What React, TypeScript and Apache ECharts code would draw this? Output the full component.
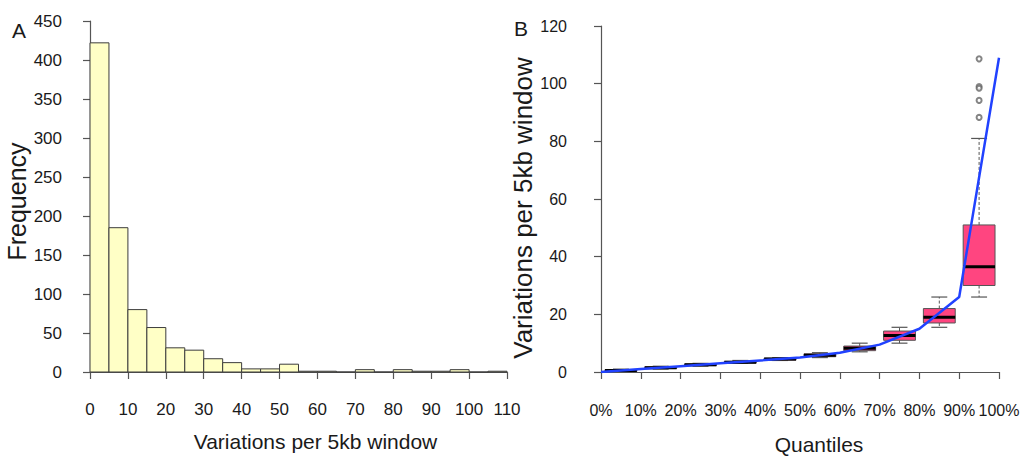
import React, { useEffect, useRef } from "react";
import * as echarts from "echarts";

// ---- Panel A: histogram ----
const binStarts = [0, 5, 10, 15, 20, 25, 30, 35, 40, 45, 50, 55, 60, 65, 70, 75, 80, 85, 90, 95, 100, 105];
const binEnds = [5, 10, 15, 20, 25, 30, 35, 40, 45, 50, 55, 60, 65, 70, 75, 80, 85, 90, 95, 100, 105, 110];
const binCounts = [422, 185, 80, 57, 31, 28, 17, 12, 4, 4, 10, 1, 1, 0, 3, 0, 3, 1, 1, 3, 0, 1];

// ---- Panel B: boxplots by quantile bin ----
const boxCenters = [5, 15, 25, 35, 45, 55, 65, 75, 85, 95];
const boxLow = [0, 1, 2, 3, 4, 5, 7, 10, 15.5, 26];
const boxQ1 = [0.2, 1.2, 2.2, 3.1, 4.1, 5.3, 7.4, 11, 17, 30];
const boxMedian = [0.5, 1.5, 2.5, 3.4, 4.5, 5.8, 8.2, 12.7, 19, 36.5];
const boxQ3 = [0.8, 1.8, 2.8, 3.7, 4.8, 6.3, 9, 14.2, 22, 51];
const boxHigh = [1, 2, 3, 4, 5, 6.7, 10, 15.5, 26, 81];

const outlierX = [95, 95, 95, 95, 95];
const outlierY = [108.6, 99, 98.4, 94.2, 88.3];

const quantilePct = [0, 10, 20, 30, 40, 50, 60, 70, 80, 90, 100];
const quantileVals = [0, 1, 2, 3, 4, 5, 6.7, 9.5, 15, 26, 109];
const quantileLabels = ["0%", "10%", "20%", "30%", "40%", "50%", "60%", "70%", "80%", "90%", "100%"];

const FONT = "'Liberation Sans', Arial, sans-serif";
const AX = "#555";
const TXT = "#1a1a1a";

export default function App() {
  const ref = useRef<HTMLDivElement>(null);
  useEffect(() => {
    if (!ref.current) return;
    const chart = echarts.init(ref.current, undefined, { renderer: "svg" });

    const histData = binStarts.map((s, i) => [s, binEnds[i], binCounts[i]]);
    const boxData = boxCenters.map((c, i) => [c, boxLow[i], boxQ1[i], boxMedian[i], boxQ3[i], boxHigh[i]]);
    const outlierData = outlierX.map((x, i) => [x, outlierY[i]]);
    const lineData = quantilePct.map((p, i) => [p, quantileVals[i]]);

    const axisCommon = {
      axisLine: { show: true, lineStyle: { color: AX, width: 1.2 } },
      axisTick: { show: true, length: 7, lineStyle: { color: AX, width: 1.2 } },
      splitLine: { show: false },
    };

    chart.setOption({
      animation: false,
      backgroundColor: "#ffffff",
      grid: [
        { left: 90, top: 21, width: 417, height: 351 },
        { left: 601, top: 26, width: 398, height: 346 },
      ],
      xAxis: [
        {
          gridIndex: 0, type: "value", min: 0, max: 110, interval: 10, offset: 15,
          ...axisCommon,
          axisLabel: { margin: 14, fontSize: 17, color: TXT, fontFamily: FONT, showMaxLabel: true, showMinLabel: true },
          name: "Variations per 5kb window", nameLocation: "middle", nameGap: 44,
          nameTextStyle: { fontSize: 21, color: TXT, fontFamily: FONT, padding: [0, 0, 0, 34] },
        },
        {
          gridIndex: 1, type: "value", min: 0, max: 100, interval: 10, offset: 16,
          ...axisCommon,
          axisLabel: {
            margin: 14, fontSize: 16, color: TXT, fontFamily: FONT,
            formatter: (v: number) => quantileLabels[Math.round(v / 10)] ?? "",
          },
          name: "Quantiles", nameLocation: "middle", nameGap: 46,
          nameTextStyle: { fontSize: 21, color: TXT, fontFamily: FONT, padding: [0, 0, 0, 38] },
        },
      ],
      yAxis: [
        {
          gridIndex: 0, type: "value", min: 0, max: 450, interval: 50, offset: 19,
          ...axisCommon,
          axisLabel: { margin: 9, fontSize: 17, color: TXT, fontFamily: FONT },
          name: "Frequency", nameLocation: "middle", nameGap: 33,
          nameTextStyle: { fontSize: 25, color: TXT, fontFamily: FONT, padding: [0, 10, 0, 0] },
        },
        {
          gridIndex: 1, type: "value", min: 0, max: 120, interval: 20, offset: 25,
          ...axisCommon,
          axisLabel: { margin: 9, fontSize: 16, color: TXT, fontFamily: FONT },
          name: "Variations per 5kb window", nameLocation: "middle", nameGap: 24,
          nameTextStyle: { fontSize: 26, color: TXT, fontFamily: FONT, padding: [0, 18, 0, 0] },
        },
      ],
      graphic: [
        { type: "text", left: 12, top: 20, style: { text: "A", fontSize: 21, fill: TXT, fontFamily: FONT } },
        { type: "text", left: 514, top: 18, style: { text: "B", fontSize: 21, fill: TXT, fontFamily: FONT } },
      ],
      series: [
        {
          type: "custom",
          xAxisIndex: 0,
          yAxisIndex: 0,
          data: histData,
          encode: { x: [0, 1], y: 2 },
          renderItem: (params: any, api: any) => {
            const p0 = api.coord([api.value(0), api.value(2)]);
            const p1 = api.coord([api.value(1), 0]);
            return {
              type: "rect",
              shape: { x: p0[0], y: p0[1], width: p1[0] - p0[0], height: p1[1] - p0[1] },
              style: { fill: "#FFFFC6", stroke: "#3c3c3c", lineWidth: 1 },
            };
          },
        },
        {
          type: "custom",
          xAxisIndex: 1,
          yAxisIndex: 1,
          data: boxData,
          encode: { x: 0, y: [1, 2, 3, 4, 5] },
          z: 2,
          renderItem: (params: any, api: any) => {
            const x = api.value(0);
            const low = api.coord([x, api.value(1)]);
            const q1 = api.coord([x, api.value(2)]);
            const med = api.coord([x, api.value(3)]);
            const q3 = api.coord([x, api.value(4)]);
            const high = api.coord([x, api.value(5)]);
            const w = api.size([10, 0])[0] * 0.8;
            const cx = low[0];
            const dash = { stroke: "#555", lineWidth: 1, lineDash: [3, 2] };
            const solid = { stroke: "#555", lineWidth: 1.2 };
            return {
              type: "group",
              children: [
                { type: "line", shape: { x1: cx, y1: q3[1], x2: cx, y2: high[1] }, style: dash },
                { type: "line", shape: { x1: cx, y1: q1[1], x2: cx, y2: low[1] }, style: dash },
                { type: "line", shape: { x1: cx - w / 4, y1: high[1], x2: cx + w / 4, y2: high[1] }, style: solid },
                { type: "line", shape: { x1: cx - w / 4, y1: low[1], x2: cx + w / 4, y2: low[1] }, style: solid },
                {
                  type: "rect",
                  shape: { x: cx - w / 2, y: q3[1], width: w, height: Math.max(q1[1] - q3[1], 1) },
                  style: { fill: "#FF4580", stroke: "#555", lineWidth: 1 },
                },
                { type: "line", shape: { x1: cx - w / 2, y1: med[1], x2: cx + w / 2, y2: med[1] }, style: { stroke: "#000", lineWidth: 3 } },
              ],
            };
          },
        },
        {
          type: "scatter",
          xAxisIndex: 1,
          yAxisIndex: 1,
          data: outlierData,
          symbol: "emptyCircle",
          symbolSize: 5,
          itemStyle: { color: "#666", borderColor: "#666", borderWidth: 1 },
          z: 3,
        },
        {
          type: "line",
          xAxisIndex: 1,
          yAxisIndex: 1,
          data: lineData,
          showSymbol: false,
          symbol: "none",
          lineStyle: { color: "#2142FF", width: 2.5 },
          z: 4,
        },
      ],
    });
    return () => chart.dispose();
  }, []);
  return <div ref={ref} style={{ position: "fixed", left: 0, top: 0, width: 1024, height: 460 }} />;
}
